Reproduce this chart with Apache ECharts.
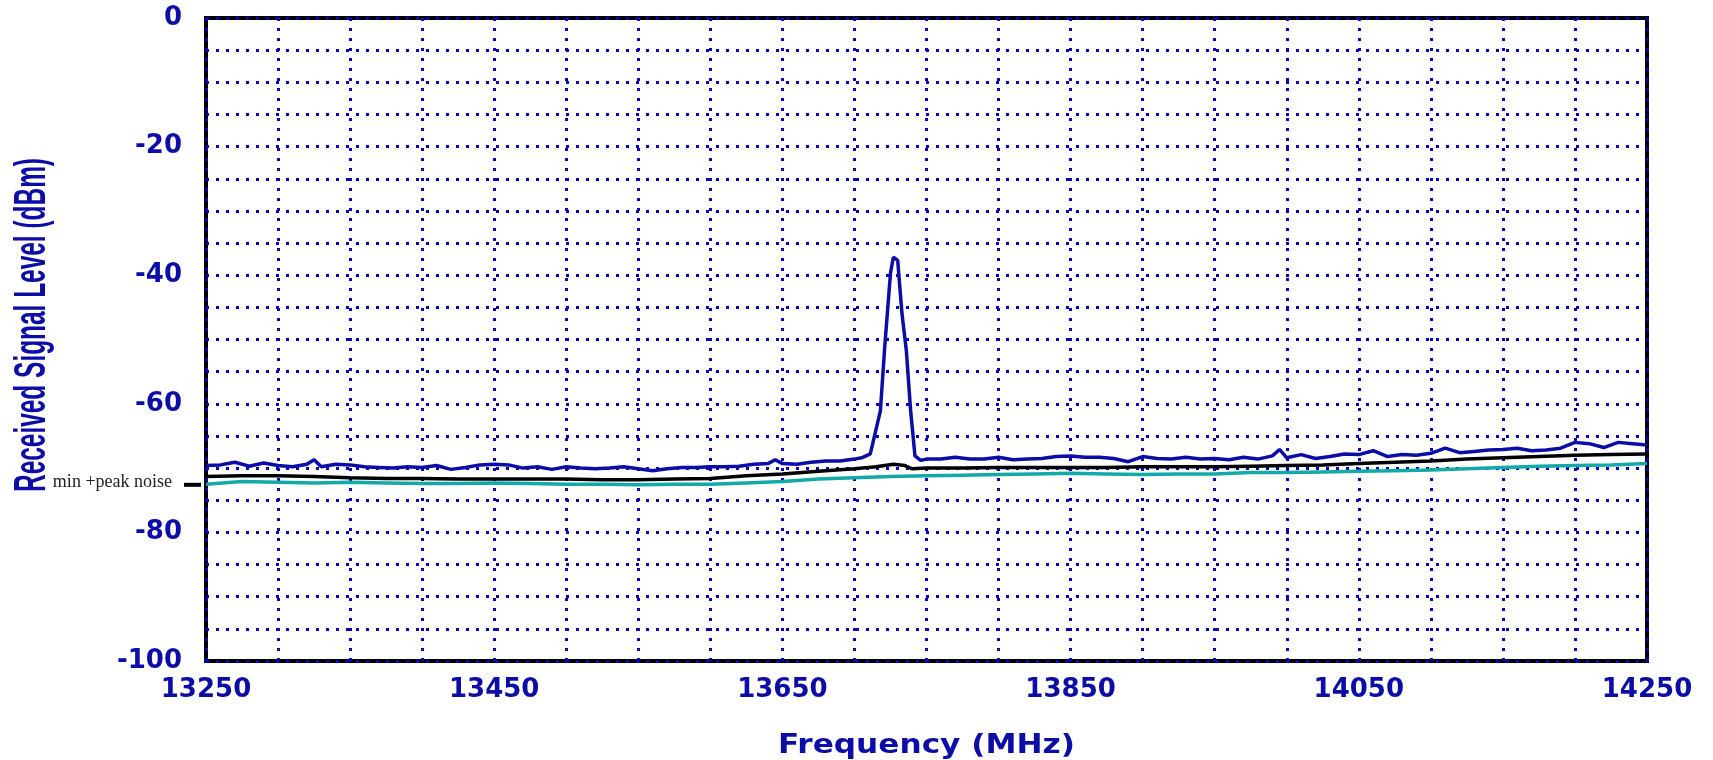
<!DOCTYPE html>
<html><head><meta charset="utf-8">
<script src="https://cdn.jsdelivr.net/npm/echarts@6/dist/echarts.min.js"></script>
<style>html,body{margin:0;padding:0;background:#fff}#c{width:1713px;height:760px}</style>
</head><body><div id="c"></div>
<script>
// ---- data ----
const blueFreq = [13250,13260,13270,13280,13290,13300,13310,13320,13325,13330,13340,13350,13360,13370,13380,13390,13400,13410,13420,13430,13440,13450,13460,13470,13480,13490,13500,13510,13520,13530,13540,13550,13560,13570,13580,13590,13600,13610,13620,13630,13640,13645,13650,13660,13670,13680,13690,13700,13705,13711,13718,13721,13725,13727,13730,13733,13736,13739,13742,13746,13750,13760,13770,13780,13790,13800,13810,13820,13830,13840,13850,13860,13870,13880,13890,13900,13910,13920,13930,13940,13950,13960,13970,13980,13990,13995,14000,14010,14020,14030,14040,14050,14060,14070,14080,14090,14100,14110,14120,14130,14140,14150,14160,14170,14180,14190,14200,14210,14220,14230,14240,14250];
const blueLevel = [-69.6,-69.5,-69.1,-69.7,-69.2,-69.6,-69.8,-69.4,-68.7,-69.8,-69.4,-69.5,-69.8,-69.9,-70.0,-69.8,-69.9,-69.6,-70.2,-69.9,-69.5,-69.4,-69.5,-70.0,-69.8,-70.2,-69.8,-70.0,-70.1,-70.0,-69.8,-70.1,-70.4,-70.1,-69.9,-69.9,-69.8,-69.8,-69.7,-69.4,-69.3,-68.7,-69.3,-69.4,-69.1,-68.9,-68.9,-68.6,-68.4,-67.8,-61.1,-51.2,-39.7,-37.2,-37.7,-46.0,-51.7,-61.1,-68.1,-68.8,-68.6,-68.6,-68.3,-68.6,-68.6,-68.3,-68.7,-68.6,-68.5,-68.2,-68.1,-68.3,-68.3,-68.5,-69.0,-68.2,-68.5,-68.6,-68.3,-68.6,-68.5,-68.7,-68.3,-68.6,-68.1,-67.1,-68.4,-67.9,-68.5,-68.2,-67.8,-67.9,-67.3,-68.2,-67.9,-68.0,-67.7,-66.9,-67.6,-67.4,-67.2,-67.1,-66.9,-67.3,-67.2,-66.9,-66.0,-66.2,-66.8,-66.0,-66.2,-66.4];
const blackFreq = [13250,13275,13300,13325,13350,13375,13400,13425,13450,13475,13500,13525,13550,13575,13600,13625,13650,13675,13700,13715,13727,13735,13740,13750,13775,13800,13825,13850,13875,13900,13925,13950,13975,14000,14025,14050,14075,14100,14125,14150,14175,14200,14225,14250];
const blackLevel = [-71.3,-71.2,-71.2,-71.3,-71.5,-71.6,-71.6,-71.7,-71.7,-71.7,-71.7,-71.8,-71.8,-71.7,-71.6,-71.2,-70.9,-70.5,-70.1,-69.8,-69.4,-69.6,-70.1,-70.0,-70.0,-69.9,-69.9,-69.9,-69.9,-69.8,-69.8,-69.8,-69.7,-69.6,-69.5,-69.3,-69.1,-68.9,-68.6,-68.4,-68.2,-68.0,-67.9,-67.8];
const tealFreq = [13250,13275,13300,13325,13350,13375,13400,13425,13450,13475,13500,13525,13550,13575,13600,13625,13650,13675,13700,13725,13750,13775,13800,13825,13850,13875,13900,13925,13950,13975,14000,14025,14050,14075,14100,14125,14150,14175,14200,14225,14250];
const tealLevel = [-72.5,-72.1,-72.2,-72.3,-72.2,-72.3,-72.4,-72.4,-72.3,-72.4,-72.5,-72.5,-72.6,-72.5,-72.5,-72.3,-72.1,-71.7,-71.5,-71.3,-71.2,-71.1,-71.0,-70.9,-70.8,-70.9,-71.0,-70.9,-70.9,-70.7,-70.7,-70.6,-70.5,-70.4,-70.3,-70.1,-69.9,-69.7,-69.6,-69.5,-69.3];
const noiseMarkLevel = -72.6;
const noiseMarkText = 'min +peak noise';
const xTitle = 'Frequency (MHz)';
const yTitle = 'Received Signal Level (dBm)';

const zip = (a, b) => a.map((v, i) => [v, b[i]]);
const BLUE = '#0c0ca6';
const labelFont = {color: BLUE, fontFamily: 'DejaVu Sans', fontWeight: 'bold', fontSize: 26};
const dotted = {color: '#0808b8', width: 3, type: [3, 7]};

const chart = echarts.init(document.getElementById('c'), null, {renderer: 'canvas'});
chart.setOption({
  animation: false,
  backgroundColor: '#fff',
  grid: {left: 206, top: 18, width: 1441, height: 643, show: true, borderColor: '#000', borderWidth: 4, backgroundColor: 'transparent'},
  xAxis: {
    type: 'value', min: 13250, max: 14250, interval: 50,
    axisLine: {show: false}, axisTick: {show: false},
    splitLine: {show: true, lineStyle: dotted},
    axisLabel: Object.assign({margin: 16, showMinLabel: true, showMaxLabel: true,
      formatter: v => ((v - 13250) % 200 === 0 ? String(v) : '')}, labelFont)
  },
  yAxis: {
    type: 'value', min: -100, max: 0, interval: 5,
    axisLine: {show: false}, axisTick: {show: false},
    splitLine: {show: true, lineStyle: dotted},
    axisLabel: Object.assign({margin: 24, formatter: v => (v % 20 === 0 ? String(v) : '')}, labelFont)
  },
  series: [
    {type: 'line', data: zip(tealFreq, tealLevel), symbol: 'none', lineStyle: {color: '#14a9a9', width: 3.5}, z: 3},
    {type: 'line', data: zip(blackFreq, blackLevel), symbol: 'none', lineStyle: {color: '#000', width: 3.5}, z: 4},
    {type: 'line', data: zip(blueFreq, blueLevel), symbol: 'none', lineStyle: {color: BLUE, width: 3.5}, z: 5}
  ]
});

function measure(text, font) {
  const ctx = document.createElement('canvas').getContext('2d');
  ctx.font = font;
  return ctx.measureText(text).width;
}
const yFont = 'bold 44px "Liberation Sans Narrow", "Liberation Sans", sans-serif';
const xFont = 'bold 26px "DejaVu Sans", sans-serif';
const yScale = 334 / measure(yTitle, yFont);
const xScale = 297 / measure(xTitle, xFont);
const markY = chart.convertToPixel({yAxisIndex: 0}, noiseMarkLevel);
const xCenter = chart.convertToPixel({xAxisIndex: 0}, 13750);

chart.setOption({
  graphic: [
    {type: 'text', x: 33, y: 325, rotation: Math.PI / 2, scaleX: yScale, scaleY: 1,
      style: {text: yTitle, font: yFont, fill: BLUE, align: 'center', verticalAlign: 'middle'}},
    {type: 'text', x: xCenter, y: 746, scaleX: xScale, scaleY: 1,
      style: {text: xTitle, font: xFont, fill: BLUE, align: 'center', verticalAlign: 'middle'}},
    {type: 'text', x: 172, y: markY - 3,
      style: {text: noiseMarkText, font: '18px "Liberation Serif", serif', fill: '#222', align: 'right', verticalAlign: 'middle'}},
    {type: 'line', shape: {x1: 184, y1: markY, x2: 201, y2: markY}, style: {stroke: '#000', lineWidth: 4}}
  ]
});
</script>
</body></html>
